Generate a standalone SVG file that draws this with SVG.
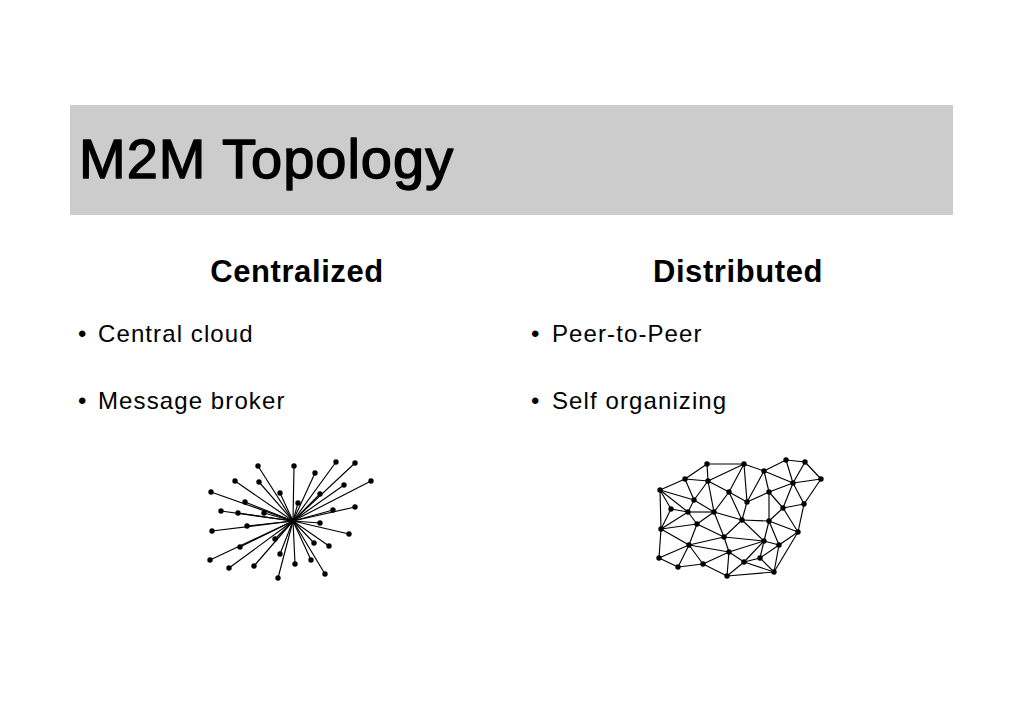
<svg xmlns="http://www.w3.org/2000/svg" width="1024" height="724" viewBox="0 0 1024 724">
<style>
.t{font-family:"Liberation Sans",Arial,sans-serif;fill:#000}
.h{font-size:31px;font-weight:bold;text-anchor:middle;letter-spacing:0.6px}
.b{font-size:24px;letter-spacing:1.1px}
.e line{stroke:#000;stroke-width:1.15}
.n circle{fill:#000}
</style>
<rect width="1024" height="724" fill="#fff"/>
<g id="title">
<rect x="70" y="105" width="883" height="110" fill="#cccccc"/>
<text class="t" x="79" y="178" font-size="56" letter-spacing="1" stroke="#000" stroke-width="1.4" stroke-linejoin="round">M2M Topology</text>
</g>
<g id="left-text">
<text class="t h" x="297" y="282">Centralized</text>
<text class="t b" x="78" y="342">•</text>
<text class="t b" x="98" y="342">Central cloud</text>
<text class="t b" x="78" y="409">•</text>
<text class="t b" x="98" y="409">Message broker</text>
</g>
<g id="right-text">
<text class="t h" x="738" y="282">Distributed</text>
<text class="t b" x="531" y="342">•</text>
<text class="t b" x="552" y="342">Peer-to-Peer</text>
<text class="t b" x="531" y="409">•</text>
<text class="t b" x="552" y="409">Self organizing</text>
</g>
<g id="star-connectors" class="e">
<line x1="293" y1="521" x2="258" y2="466"/><line x1="293" y1="521" x2="294" y2="466"/>
<line x1="293" y1="521" x2="336" y2="462"/><line x1="293" y1="521" x2="355" y2="463"/>
<line x1="293" y1="521" x2="315" y2="473"/><line x1="293" y1="521" x2="235" y2="481"/>
<line x1="293" y1="521" x2="259" y2="482"/><line x1="293" y1="521" x2="371" y2="481"/>
<line x1="293" y1="521" x2="344" y2="485"/><line x1="293" y1="521" x2="211" y2="492"/>
<line x1="293" y1="521" x2="280" y2="493"/><line x1="293" y1="521" x2="320" y2="494"/>
<line x1="293" y1="521" x2="245" y2="502"/><line x1="293" y1="521" x2="298" y2="503"/>
<line x1="293" y1="521" x2="221" y2="511"/><line x1="293" y1="521" x2="238" y2="513"/>
<line x1="293" y1="521" x2="264" y2="513"/><line x1="293" y1="521" x2="333" y2="510"/>
<line x1="293" y1="521" x2="355" y2="507"/><line x1="293" y1="521" x2="320" y2="523"/>
<line x1="293" y1="521" x2="247" y2="526"/><line x1="293" y1="521" x2="212" y2="531"/>
<line x1="293" y1="521" x2="349" y2="534"/><line x1="293" y1="521" x2="275" y2="539"/>
<line x1="293" y1="521" x2="314" y2="543"/><line x1="293" y1="521" x2="240" y2="547"/>
<line x1="293" y1="521" x2="329" y2="546"/><line x1="293" y1="521" x2="210" y2="560"/>
<line x1="293" y1="521" x2="280" y2="554"/><line x1="293" y1="521" x2="311" y2="560"/>
<line x1="293" y1="521" x2="295" y2="564"/><line x1="293" y1="521" x2="229" y2="568"/>
<line x1="293" y1="521" x2="254" y2="566"/><line x1="293" y1="521" x2="278" y2="578"/>
<line x1="293" y1="521" x2="325" y2="574"/>
</g>
<g id="star-nodes" class="n">
<circle id="hub" cx="293" cy="521" r="3"/>
<circle cx="258" cy="466" r="2.7"/><circle cx="294" cy="466" r="2.7"/><circle cx="336" cy="462" r="2.7"/>
<circle cx="355" cy="463" r="2.7"/><circle cx="315" cy="473" r="2.7"/><circle cx="235" cy="481" r="2.7"/>
<circle cx="259" cy="482" r="2.7"/><circle cx="371" cy="481" r="2.7"/><circle cx="344" cy="485" r="2.7"/>
<circle cx="211" cy="492" r="2.7"/><circle cx="280" cy="493" r="2.7"/><circle cx="320" cy="494" r="2.7"/>
<circle cx="245" cy="502" r="2.7"/><circle cx="298" cy="503" r="2.7"/><circle cx="221" cy="511" r="2.7"/>
<circle cx="238" cy="513" r="2.7"/><circle cx="264" cy="513" r="2.7"/><circle cx="333" cy="510" r="2.7"/>
<circle cx="355" cy="507" r="2.7"/><circle cx="320" cy="523" r="2.7"/><circle cx="247" cy="526" r="2.7"/>
<circle cx="212" cy="531" r="2.7"/><circle cx="349" cy="534" r="2.7"/><circle cx="275" cy="539" r="2.7"/>
<circle cx="314" cy="543" r="2.7"/><circle cx="240" cy="547" r="2.7"/><circle cx="329" cy="546" r="2.7"/>
<circle cx="210" cy="560" r="2.7"/><circle cx="280" cy="554" r="2.7"/><circle cx="311" cy="560" r="2.7"/>
<circle cx="295" cy="564" r="2.7"/><circle cx="229" cy="568" r="2.7"/><circle cx="254" cy="566" r="2.7"/>
<circle cx="278" cy="578" r="2.7"/><circle cx="325" cy="574" r="2.7"/>
</g>
<g id="mesh-connectors" class="e">
<line x1="707" y1="464" x2="744" y2="464"/><line x1="707" y1="464" x2="685" y2="479"/>
<line x1="707" y1="464" x2="708" y2="481"/><line x1="744" y1="464" x2="708" y2="481"/>
<line x1="744" y1="464" x2="729" y2="492"/><line x1="744" y1="464" x2="747" y2="502"/>
<line x1="744" y1="464" x2="764" y2="471"/><line x1="764" y1="471" x2="786" y2="460"/>
<line x1="786" y1="460" x2="805" y2="462"/><line x1="805" y1="462" x2="821" y2="479"/>
<line x1="786" y1="460" x2="793" y2="483"/><line x1="805" y1="462" x2="793" y2="483"/>
<line x1="793" y1="483" x2="821" y2="479"/><line x1="764" y1="471" x2="793" y2="483"/>
<line x1="764" y1="471" x2="769" y2="492"/><line x1="764" y1="471" x2="747" y2="502"/>
<line x1="769" y1="492" x2="793" y2="483"/><line x1="769" y1="492" x2="747" y2="502"/>
<line x1="769" y1="492" x2="783" y2="508"/><line x1="793" y1="483" x2="783" y2="508"/>
<line x1="793" y1="483" x2="804" y2="504"/><line x1="821" y1="479" x2="804" y2="504"/>
<line x1="783" y1="508" x2="804" y2="504"/><line x1="804" y1="504" x2="798" y2="532"/>
<line x1="783" y1="508" x2="798" y2="532"/><line x1="769" y1="492" x2="769" y2="521"/>
<line x1="783" y1="508" x2="769" y2="521"/><line x1="769" y1="521" x2="798" y2="532"/>
<line x1="747" y1="502" x2="742" y2="520"/><line x1="729" y1="492" x2="747" y2="502"/>
<line x1="729" y1="492" x2="708" y2="481"/><line x1="729" y1="492" x2="714" y2="512"/>
<line x1="729" y1="492" x2="742" y2="520"/><line x1="708" y1="481" x2="685" y2="479"/>
<line x1="708" y1="481" x2="694" y2="500"/><line x1="708" y1="481" x2="714" y2="512"/>
<line x1="685" y1="479" x2="660" y2="490"/><line x1="685" y1="479" x2="694" y2="500"/>
<line x1="660" y1="490" x2="694" y2="500"/><line x1="660" y1="490" x2="671" y2="509"/>
<line x1="660" y1="490" x2="688" y2="512"/><line x1="660" y1="490" x2="661" y2="529"/>
<line x1="694" y1="500" x2="688" y2="512"/><line x1="694" y1="500" x2="714" y2="512"/>
<line x1="671" y1="509" x2="688" y2="512"/><line x1="671" y1="509" x2="661" y2="529"/>
<line x1="688" y1="512" x2="714" y2="512"/><line x1="688" y1="512" x2="661" y2="529"/>
<line x1="688" y1="512" x2="697" y2="524"/><line x1="714" y1="512" x2="697" y2="524"/>
<line x1="714" y1="512" x2="742" y2="520"/><line x1="714" y1="512" x2="724" y2="537"/>
<line x1="742" y1="520" x2="769" y2="521"/><line x1="742" y1="520" x2="724" y2="537"/>
<line x1="742" y1="520" x2="764" y2="541"/><line x1="769" y1="521" x2="764" y2="541"/>
<line x1="769" y1="521" x2="779" y2="545"/><line x1="798" y1="532" x2="779" y2="545"/>
<line x1="798" y1="532" x2="774" y2="572"/><line x1="764" y1="541" x2="779" y2="545"/>
<line x1="697" y1="524" x2="661" y2="529"/><line x1="697" y1="524" x2="724" y2="537"/>
<line x1="697" y1="524" x2="689" y2="545"/><line x1="661" y1="529" x2="689" y2="545"/>
<line x1="661" y1="529" x2="659" y2="558"/><line x1="724" y1="537" x2="689" y2="545"/>
<line x1="724" y1="537" x2="764" y2="541"/><line x1="724" y1="537" x2="729" y2="552"/>
<line x1="764" y1="541" x2="729" y2="552"/><line x1="764" y1="541" x2="760" y2="558"/>
<line x1="764" y1="541" x2="744" y2="562"/><line x1="779" y1="545" x2="760" y2="558"/>
<line x1="779" y1="545" x2="774" y2="572"/><line x1="689" y1="545" x2="659" y2="558"/>
<line x1="689" y1="545" x2="678" y2="567"/><line x1="689" y1="545" x2="703" y2="564"/>
<line x1="689" y1="545" x2="729" y2="552"/><line x1="729" y1="552" x2="703" y2="564"/>
<line x1="729" y1="552" x2="744" y2="562"/><line x1="729" y1="552" x2="727" y2="576"/>
<line x1="659" y1="558" x2="678" y2="567"/><line x1="678" y1="567" x2="703" y2="564"/>
<line x1="703" y1="564" x2="727" y2="576"/><line x1="744" y1="562" x2="727" y2="576"/>
<line x1="744" y1="562" x2="760" y2="558"/><line x1="744" y1="562" x2="774" y2="572"/>
<line x1="760" y1="558" x2="774" y2="572"/><line x1="727" y1="576" x2="774" y2="572"/>
</g>
<g id="mesh-nodes" class="n">
<circle cx="707" cy="464" r="2.7"/><circle cx="744" cy="464" r="2.7"/><circle cx="786" cy="460" r="2.7"/>
<circle cx="805" cy="462" r="2.7"/><circle cx="764" cy="471" r="2.7"/><circle cx="685" cy="479" r="2.7"/>
<circle cx="708" cy="481" r="2.7"/><circle cx="821" cy="479" r="2.7"/><circle cx="793" cy="483" r="2.7"/>
<circle cx="660" cy="490" r="2.7"/><circle cx="729" cy="492" r="2.7"/><circle cx="769" cy="492" r="2.7"/>
<circle cx="694" cy="500" r="2.7"/><circle cx="747" cy="502" r="2.7"/><circle cx="671" cy="509" r="2.7"/>
<circle cx="688" cy="512" r="2.7"/><circle cx="714" cy="512" r="2.7"/><circle cx="783" cy="508" r="2.7"/>
<circle cx="804" cy="504" r="2.7"/><circle cx="742" cy="520" r="2.7"/><circle cx="769" cy="521" r="2.7"/>
<circle cx="697" cy="524" r="2.7"/><circle cx="661" cy="529" r="2.7"/><circle cx="798" cy="532" r="2.7"/>
<circle cx="724" cy="537" r="2.7"/><circle cx="764" cy="541" r="2.7"/><circle cx="779" cy="545" r="2.7"/>
<circle cx="689" cy="545" r="2.7"/><circle cx="729" cy="552" r="2.7"/><circle cx="659" cy="558" r="2.7"/>
<circle cx="760" cy="558" r="2.7"/><circle cx="744" cy="562" r="2.7"/><circle cx="678" cy="567" r="2.7"/>
<circle cx="703" cy="564" r="2.7"/><circle cx="727" cy="576" r="2.7"/><circle cx="774" cy="572" r="2.7"/>
</g>
</svg>
